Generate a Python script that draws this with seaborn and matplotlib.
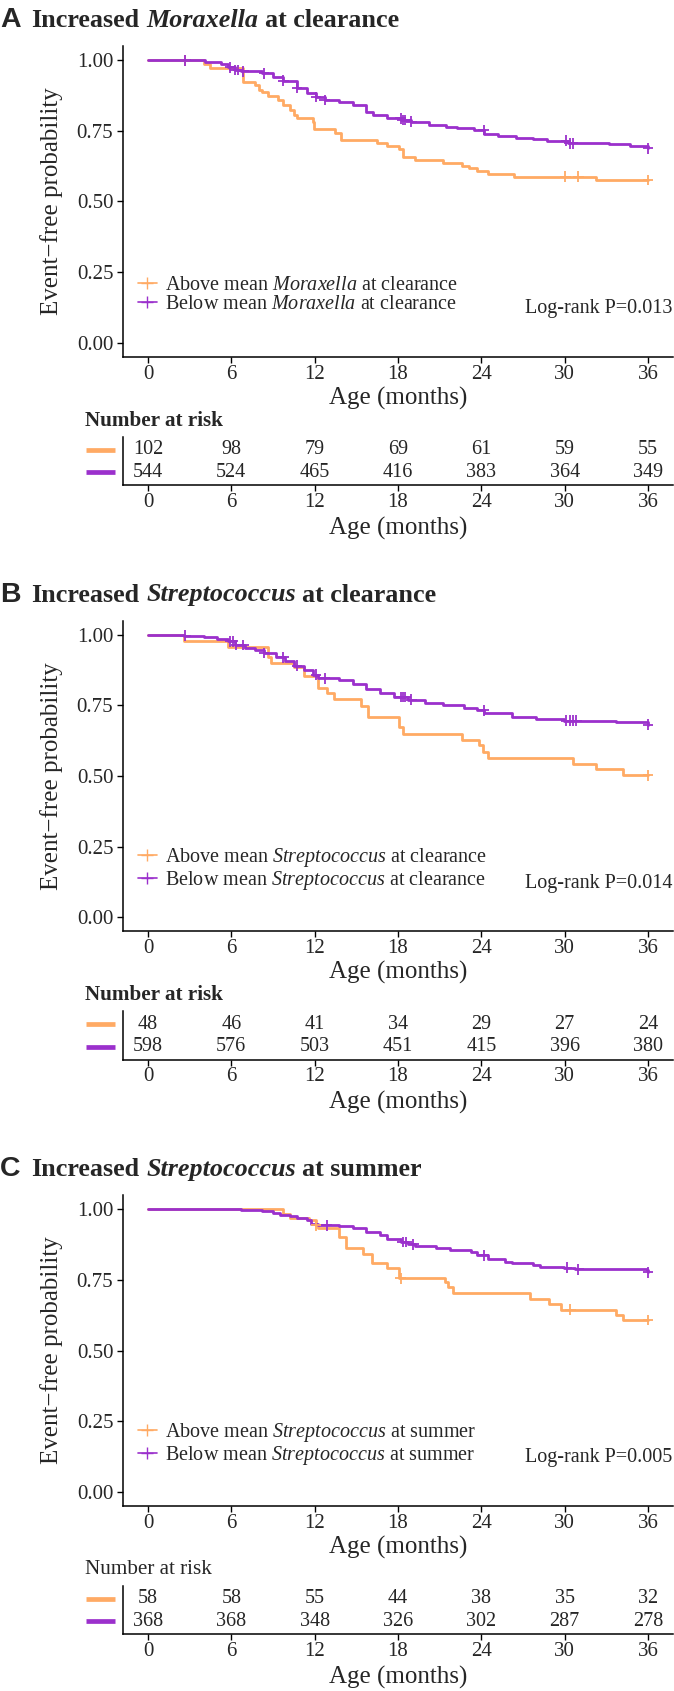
import numpy as np
import pandas as pd
import matplotlib
matplotlib.use("Agg")
import matplotlib.pyplot as plt
import matplotlib.transforms as mtransforms
from matplotlib.lines import Line2D
import seaborn as sns

# ---- data ----
times_risk = [0, 6, 12, 18, 24, 30, 36]

# panel A: Moraxella at clearance
a_above_t = [0, 4.06, 4.49, 6.86, 7.73, 7.98, 8.23, 8.61, 9.36, 9.73, 10.23, 10.48, 10.73, 11.86, 11.98,
             13.48, 13.86, 16.47, 17.22, 18.10, 18.35, 19.22, 21.22, 22.6, 23.09, 23.72, 24.47, 26.34, 32.22, 36]
a_above_s = [1.0, 0.986, 0.972, 0.923, 0.912, 0.894, 0.888, 0.874, 0.859, 0.841, 0.823, 0.806, 0.794, 0.782, 0.755,
             0.741, 0.717, 0.708, 0.696, 0.684, 0.658, 0.647, 0.637, 0.625, 0.617, 0.609, 0.597, 0.588, 0.576, 0.576]
a_above_cens = [2.66, 30.04, 30.97, 36]
a_below_t = [0, 4.11, 5.24, 5.74, 6.23, 6.73, 8.23, 8.98, 9.73, 10.73, 11.48, 12.1, 12.73, 13.73, 14.73, 15.73,
             16.23, 17.22, 18.22, 18.97, 20.22, 21.47, 22.22, 23.47, 24.22, 25.22, 26.47, 27.72, 28.72, 30.22,
             33.22, 34.71, 36]
a_below_s = [1.0, 0.994, 0.986, 0.974, 0.965, 0.961, 0.953, 0.941, 0.927, 0.902, 0.884, 0.870, 0.859, 0.853, 0.841,
             0.817, 0.806, 0.794, 0.788, 0.782, 0.770, 0.765, 0.759, 0.753, 0.738, 0.732, 0.726, 0.720, 0.715,
             0.706, 0.702, 0.697, 0.688]
a_below_cens = [2.69, 5.93, 6.23, 6.48, 6.86, 8.36, 9.73, 10.73, 12.1, 12.73, 18.18, 18.35, 18.53, 18.97,
                24.17, 30.09, 30.35, 30.59, 36]
a_risk_above = [102, 98, 79, 69, 61, 59, 55]
a_risk_below = [544, 524, 465, 416, 383, 364, 349]

# panel B: Streptococcus at clearance
b_above_t = [0, 2.62, 5.74, 8.61, 8.86, 10.48, 11.23, 12.23, 12.86, 13.36, 15.35, 15.85, 18.10, 18.35, 22.6,
             23.84, 24.09, 24.47, 30.59, 32.22, 34.21, 36]
b_above_s = [1.0, 0.979, 0.958, 0.920, 0.899, 0.884, 0.853, 0.812, 0.793, 0.773, 0.749, 0.708, 0.672, 0.647, 0.626,
             0.608, 0.584, 0.564, 0.543, 0.523, 0.502, 0.502]
b_above_cens = [36]
b_below_t = [0, 2.62, 4.0, 5.0, 5.74, 6.23, 6.98, 7.73, 8.36, 9.23, 9.86, 10.48, 11.23, 11.86, 12.23, 13.73,
             14.73, 15.73, 16.72, 17.72, 18.72, 19.97, 21.22, 22.72, 23.72, 24.22, 26.22, 27.97, 29.97, 31.22,
             33.72, 36]
b_below_s = [1.0, 0.996, 0.993, 0.984, 0.976, 0.963, 0.953, 0.946, 0.935, 0.920, 0.908, 0.890, 0.875, 0.859, 0.846,
             0.840, 0.826, 0.808, 0.793, 0.779, 0.770, 0.759, 0.750, 0.741, 0.732, 0.723, 0.710, 0.702, 0.696,
             0.694, 0.690, 0.682]
b_below_cens = [2.69, 5.93, 6.1, 6.35, 6.86, 8.36, 9.73, 10.73, 12.1, 12.73, 18.18, 18.35, 18.53, 18.97,
                24.17, 30.09, 30.35, 30.59, 30.84, 36]
b_risk_above = [48, 46, 41, 34, 29, 27, 24]
b_risk_below = [598, 576, 503, 451, 415, 396, 380]

# panel C: Streptococcus at summer
c_above_t = [0, 9.73, 10.23, 11.61, 12.1, 12.23, 13.73, 14.23, 15.48, 16.1, 17.22, 18.1, 21.35, 21.6, 21.97,
             27.47, 28.84, 29.72, 33.71, 34.21, 36]
c_above_s = [1.0, 0.982, 0.969, 0.961, 0.943, 0.934, 0.902, 0.861, 0.843, 0.808, 0.793, 0.755, 0.743, 0.726, 0.702,
             0.682, 0.663, 0.645, 0.625, 0.608, 0.608]
c_above_cens = [12.1, 18.2, 30.4, 36]
c_below_t = [0, 6.73, 8.23, 8.98, 9.48, 10.23, 10.73, 11.48, 11.73, 12.23, 13.73, 14.73, 15.73, 16.72, 17.22,
             18.22, 18.72, 19.22, 20.72, 21.72, 23.22, 23.72, 24.47, 25.72, 26.22, 27.72, 28.22, 29.97, 30.72,
             35.96, 36]
c_below_s = [1.0, 0.998, 0.995, 0.988, 0.981, 0.976, 0.969, 0.961, 0.949, 0.943, 0.941, 0.932, 0.918, 0.908, 0.896,
             0.884, 0.875, 0.869, 0.861, 0.855, 0.847, 0.837, 0.823, 0.814, 0.808, 0.802, 0.796, 0.793, 0.787,
             0.785, 0.776]
c_below_cens = [12.86, 18.35, 18.6, 19.1, 24.17, 30.16, 30.97, 36]
c_risk_above = [58, 58, 55, 44, 38, 35, 32]
c_risk_below = [368, 368, 348, 326, 302, 287, 278]

panels = [
    dict(letter="A", genus="Moraxella", when="clearance", pval="0.013", bold_risk=True,
         above=(a_above_t, a_above_s, a_above_cens), below=(a_below_t, a_below_s, a_below_cens),
         risk=(a_risk_above, a_risk_below)),
    dict(letter="B", genus="Streptococcus", when="clearance", pval="0.014", bold_risk=True,
         above=(b_above_t, b_above_s, b_above_cens), below=(b_below_t, b_below_s, b_below_cens),
         risk=(b_risk_above, b_risk_below)),
    dict(letter="C", genus="Streptococcus", when="summer", pval="0.005", bold_risk=False,
         above=(c_above_t, c_above_s, c_above_cens), below=(c_below_t, c_below_s, c_below_cens),
         risk=(c_risk_above, c_risk_below)),
]

orange = "#FFAA64"
purple = "#9B30CC"
serif = ["Liberation Serif", "DejaVu Serif"]

sns.set_style("white")
plt.rcParams["font.family"] = serif
plt.rcParams["mathtext.fontset"] = "custom"
plt.rcParams["mathtext.rm"] = "Liberation Serif"
plt.rcParams["mathtext.it"] = "Liberation Serif:italic"
plt.rcParams["mathtext.bf"] = "Liberation Serif:bold"

W, H = 674, 1691
fig = plt.figure(figsize=(W / 100, H / 100), dpi=100)
renderer = fig.canvas.get_renderer()


def box(left, top, right, bottom):
    return [left / W, 1 - bottom / H, (right - left) / W, (bottom - top) / H]


def style_axis(ax):
    for s in ["top", "right"]:
        ax.spines[s].set_visible(False)
    for s in ["left", "bottom"]:
        ax.spines[s].set_linewidth(1.1)
        ax.spines[s].set_color("black")
    ax.tick_params(axis="both", direction="out", length=4, width=1.0, color="black",
                   labelsize=15, bottom=True, left=True)
    ax.tick_params(axis="x", pad=1.5)
    ax.tick_params(axis="y", pad=3)
    ax.set_xlim(-1.8, 37.8)
    ax.set_xticks(times_risk)


def fix_fonts(ax):
    for lab in ax.get_xticklabels() + ax.get_yticklabels():
        lab.set_fontfamily(serif)


def draw_title(y_base, pieces):
    x = 0.0
    for txt, kw, gap in pieces:
        t = fig.text(x / W, 1 - y_base / H, txt, va="baseline", ha="left", **kw)
        x += t.get_window_extent(renderer).width + gap


for i, p in enumerate(panels):
    off = i * 574.5
    fs_t = 18.8
    space = 0.25 * fs_t * 100 / 72
    draw_title(27 + off, [
        (p["letter"], dict(family=["Liberation Sans", "DejaVu Sans"], weight="bold", fontsize=20.5), 11),
        ("Increased", dict(weight="bold", fontsize=fs_t), space),
        (p["genus"], dict(weight="bold", style="italic", fontsize=fs_t), space),
        ("at " + p["when"], dict(weight="bold", fontsize=fs_t), 0),
    ])

    # survival curves
    ax = fig.add_axes(box(123, 46 + off, 673, 357 + off))
    rows = []
    for grp, key in [("Above", "above"), ("Below", "below")]:
        t, s, _ = p[key]
        rows.append(pd.DataFrame({"time": t, "surv": s, "group": grp}))
    df = pd.concat(rows, ignore_index=True)
    sns.lineplot(data=df, x="time", y="surv", hue="group", palette={"Above": orange, "Below": purple},
                 estimator=None, drawstyle="steps-post", linewidth=2.0, legend=False, ax=ax)
    cens_rows = []
    for grp, key in [("Above", "above"), ("Below", "below")]:
        t, s, c = p[key]
        idx = np.searchsorted(np.array(t), np.array(c), side="right") - 1
        cens_rows.append(pd.DataFrame({"time": c, "surv": np.array(s)[idx], "group": grp}))
    cdf = pd.concat(cens_rows, ignore_index=True)
    sns.scatterplot(data=cdf, x="time", y="surv", hue="group", palette={"Above": orange, "Below": purple},
                    marker="+", s=60, linewidth=1.3, legend=False, ax=ax, zorder=3)
    style_axis(ax)
    ax.set_ylim(-0.05, 1.05)
    ax.set_yticks([0, 0.25, 0.5, 0.75, 1.0])
    ax.set_yticklabels(["0.00", "0.25", "0.50", "0.75", "1.00"])
    fix_fonts(ax)
    ax.set_xlabel("Age (months)", fontsize=18, va="center")
    ax.xaxis.set_label_coords(0.5, (357 - 398) / 311)
    ax.set_ylabel("Event\u2212free probability", fontsize=18, va="center")
    ax.yaxis.set_label_coords((52 - 123) / 550, 0.5)

    handles = [Line2D([], [], color=orange, marker="+", markersize=8, linewidth=1.2),
               Line2D([], [], color=purple, marker="+", markersize=8, linewidth=1.2)]
    labels = [r"Above mean $\mathit{%s}$ at %s" % (p["genus"], p["when"]),
              r"Below mean $\mathit{%s}$ at %s" % (p["genus"], p["when"])]
    ax.legend(handles, labels, loc="center left", bbox_to_anchor=(0.028, 0.2), frameon=False,
              fontsize=14.5, handlelength=0.9, handletextpad=0.4, labelspacing=0.0,
              borderpad=0, borderaxespad=0)
    ax.text(0.999, 0.155, "Log-rank P=" + p["pval"], transform=ax.transAxes, ha="right", va="center",
            fontsize=14.5)

    # risk table
    rax = fig.add_axes(box(123, 437 + off, 673, 485 + off))
    style_axis(rax)
    rax.set_ylim(0.45, 2.55)
    rax.set_yticks([])
    rax.tick_params(axis="y", left=False)
    fix_fonts(rax)
    for row_y, vals in zip([2, 1], p["risk"]):
        for t, v in zip(times_risk, vals):
            rax.text(t, row_y, str(v), ha="center", va="center", fontsize=14.5)
    trans = mtransforms.blended_transform_factory(rax.transAxes, rax.transData)
    for row_y, col in zip([2, 1], [orange, purple]):
        rax.plot([-0.067, -0.0145], [row_y, row_y], color=col, linewidth=3.4, transform=trans,
                 clip_on=False, solid_capstyle="butt")
    rax.set_xlabel("Age (months)", fontsize=18, va="center")
    rax.xaxis.set_label_coords(0.5, (485 - 528) / 48)
    fig.text(85 / W, 1 - (421 + off) / H, "Number at risk", ha="left", va="center", fontsize=15.2,
             weight="bold" if p["bold_risk"] else "normal")

fig.savefig("out.png", dpi=100)
